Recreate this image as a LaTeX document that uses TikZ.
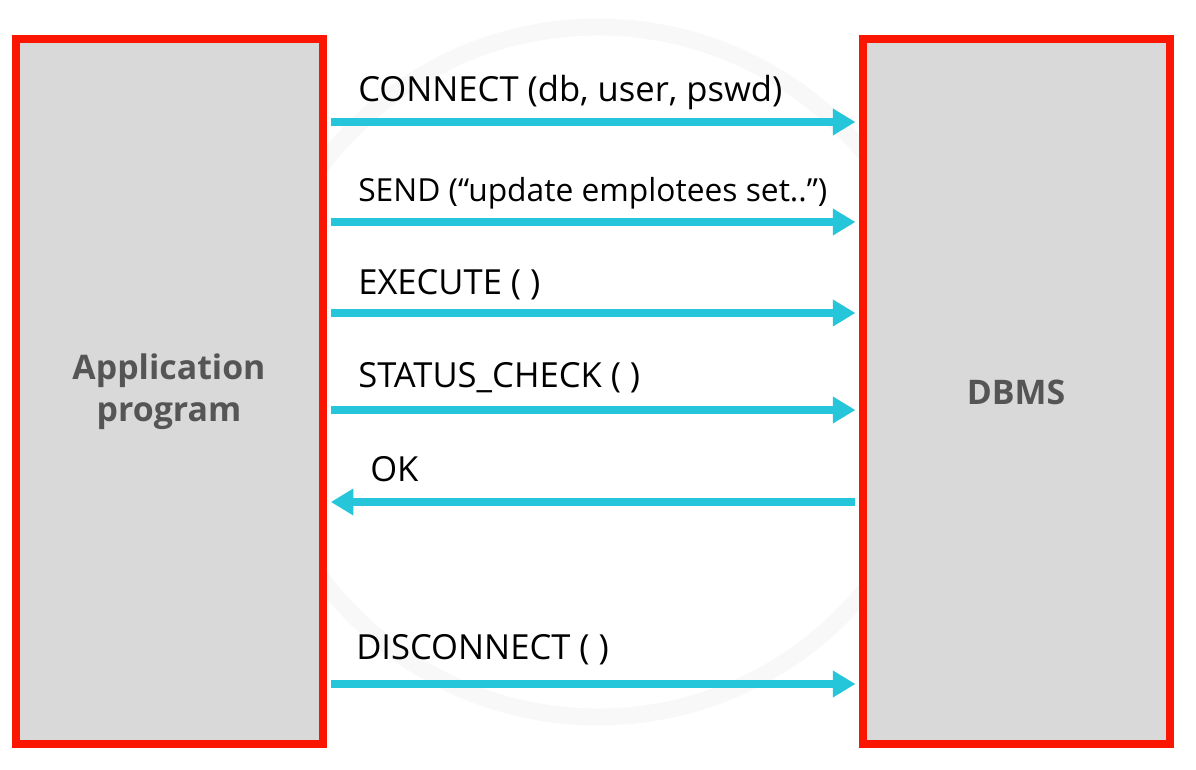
\documentclass[tikz,border=0pt]{standalone}
\usepackage{fontspec}
\setmainfont{Open Sans}
\usetikzlibrary{arrows.meta,backgrounds}
\definecolor{boxred}{RGB}{250,22,0}
\definecolor{boxgray}{RGB}{217,217,217}
\definecolor{arrcyan}{RGB}{38,198,218}
\definecolor{lblgray}{RGB}{85,85,85}
\definecolor{wmark}{RGB}{248,248,248}
\tikzset{
  actor/.style={draw=boxred, fill=boxgray, line width=5.67pt, inner sep=0pt,
    minimum width=217.4pt, minimum height=499.3pt},
  actorlbl/.style={font=\fontsize{24}{30}\selectfont\bfseries, text=lblgray, align=center},
  msg/.style={font=\fontsize{24.5}{28}\selectfont, text=black, anchor=base west, inner sep=0pt},
  smallmsg/.style={msg, font=\fontsize{22.5}{28}\selectfont},
  call/.style={draw=arrcyan, line width=5pt, -{Triangle[length=16pt,width=18pt]},
    shorten >=2.8pt, shorten <=2.8pt}
}
\begin{document}
\begin{tikzpicture}[x=0.7087pt,y=-0.7087pt]
\useasboundingbox (0,0) rectangle (1196,769);
\node[actor] (L) at (169.5,391.75) {};
\node[actor] (R) at (1016.75,391.75) {};
\node[actorlbl] (Ltxt) at (169,392) {Application\\program};
\node[actorlbl] (Rtxt) at (1016,392) {DBMS};
\coordinate (y1) at (0,122);
\coordinate (y2) at (0,222);
\coordinate (y3) at (0,313);
\coordinate (y4) at (0,410);
\coordinate (y5) at (0,502);
\coordinate (y6) at (0,684);
\node[msg] (m1) at (358,101) {CONNECT (db, user, pswd)};
\node[smallmsg] (m2) at (358,201) {SEND (“update emplotees set..”)};
\node[msg] (m3) at (358,294) {EXECUTE ( )};
\node[msg] (m4) at (358,387) {STATUS\_CHECK ( )};
\node[msg] (m5) at (370,481) {OK};
\node[msg] (m6) at (356,659) {DISCONNECT ( )};
\begin{scope}[on background layer]
\fill[white] (0,0) rectangle (1196,769);
% faint watermark ring
\draw[wmark, line width=12pt] (598,372) circle [radius=345];
\draw[call] (L.east |- y1) -- (R.west |- y1);
\draw[call] (L.east |- y2) -- (R.west |- y2);
\draw[call] (L.east |- y3) -- (R.west |- y3);
\draw[call] (L.east |- y4) -- (R.west |- y4);
\draw[call] (R.west |- y5) -- (L.east |- y5);
\draw[call] (L.east |- y6) -- (R.west |- y6);
\end{scope}
\end{tikzpicture}
\end{document}
